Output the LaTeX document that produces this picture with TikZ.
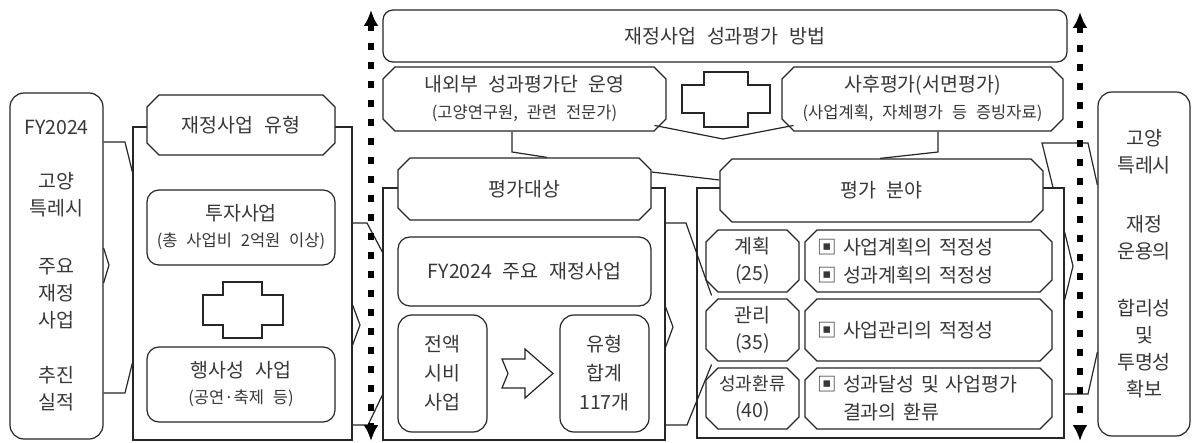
\documentclass[tikz,border=0pt]{standalone}
\usepackage{fontspec}
\setmainfont{Noto Sans CJK KR}[WordSpace=2.4]
\usetikzlibrary{shapes.misc,arrows.meta,calc}
\newcommand{\msz}{\fontsize{19.5}{27}\selectfont}
\newcommand{\ssz}{\fontsize{16.5}{27}\selectfont}
\begin{document}
\begin{tikzpicture}[x=1pt,y=-1pt,
  ln/.style={draw=black!85,line width=1.2pt},
  frm/.style={ln,rectangle,inner sep=0pt},
  rbox/.style={ln,fill=white,rectangle,rounded corners=#1,align=center,inner sep=0pt,text=black!78,font=\msz},
  rbox/.default=11pt,
  cbox/.style={ln,fill=white,chamfered rectangle,chamfered rectangle xsep=6pt,chamfered rectangle ysep=6pt,align=center,inner sep=0pt,text=black!78,font=\msz},
  rowbox/.style={cbox,align=left,text width=223pt,inner xsep=0pt,minimum width=247pt,font=\fontsize{19.5}{28}\selectfont},
  dotarr/.style={draw=black,line width=5.5pt,dash pattern=on 7pt off 12pt,{Latex[length=16pt,width=15pt]}-{Latex[length=16pt,width=15pt]}},
  sym/.style={ln,fill=white}
]
\useasboundingbox[fill=white] (0,0) rectangle (1193,443);

% group frames
\node[frm,minimum width=219pt,minimum height=313pt] (g1) at (242.5,283.5) {};
\node[frm,minimum width=282pt,minimum height=252pt] (g2) at (524,314) {};
\node[frm,minimum width=367pt,minimum height=250pt] (g3) at (880.5,313) {};

% side boxes
\node[rbox=14pt,minimum width=93pt,minimum height=346pt] (fy) at (56.5,266)
  {FY2024\\[27pt]고양\\특레시\\[31pt]주요\\재정\\사업\\[28pt]추진\\실적};
\node[rbox=14pt,minimum width=92pt,minimum height=344pt] (rb) at (1144,264)
  {고양\\특레시\\[32pt]재정\\운용의\\[30pt]합리성\\및\\투명성\\확보};

% connectors (braces)
\draw[ln] (fy.east |- 0,248) -- (109,265) -- (fy.east |- 0,283);
\draw[ln] (fy.east |- 0,142) -- (125,142) -- (g1.west |- 0,172);
\draw[ln] (fy.east |- 0,393) -- (125,393) -- (g1.west |- 0,363);

\draw[ln] (g1.east |- 0,305) -- (360,325) -- (g1.east |- 0,345);
\draw[ln] (g1.east |- 0,223) -- (367,223) -- (g2.west |- 0,252);
\draw[ln] (g1.east |- 0,425) -- (368,425) -- (g2.west |- 0,395);

\draw[ln] (g2.east |- 0,307) -- (673,327) -- (g2.east |- 0,347);

\draw[ln] (g3.east |- 0,232) -- (1073,266) -- (g3.east |- 0,300);
\draw[ln] (g3.north -| 1053,0) -- (1042,143) -- (1088,143) -- (rb.west |- 0,185);
\draw[ln] (g3.east |- 0,394) -- (1088,394) -- (rb.west |- 0,352);

% group 1
\node[cbox,minimum width=188pt,minimum height=60pt] (t1) at (241,125) {재정사업 유형};
\node[rbox=12pt,minimum width=188pt,minimum height=75pt] (b1) at (241,227.5) {투자사업\\[-1pt]{\ssz (총 사업비 2억원 이상)}};
\node[rbox=12pt,minimum width=188pt,minimum height=75pt] (b2) at (241,384.5) {행사성 사업\\[-1pt]{\ssz (공연·축제 등)}};
\draw[sym] (223,282) -- (262,282) -- (262,295) -- (283,295) -- (283,325) -- (262,325) -- (262,338) -- (223,338) -- (223,325) -- (203,325) -- (203,295) -- (223,295) -- cycle;

% top row
\node[rbox=10pt,minimum width=684pt,minimum height=52pt] (top) at (725,36) {재정사업 성과평가 방법};
\node[cbox,minimum width=283pt,minimum height=64pt] (nw) at (524.5,99) {내외부 성과평가단 운영\\{\ssz (고양연구원, 관련 전문가)}};
\node[cbox,minimum width=281pt,minimum height=64pt] (sh) at (922.5,99) {사후평가(서면평가)\\{\ssz (사업계획, 자체평가 등 증빙자료)}};
\draw[sym] (704,72) -- (748,72) -- (748,85) -- (770,85) -- (770,113) -- (748,113) -- (748,127) -- (704,127) -- (704,113) -- (682,113) -- (682,85) -- (704,85) -- cycle;

% group 2
\node[cbox,minimum width=253pt,minimum height=62pt] (t2) at (524.5,189) {평가대상};
\node[rbox=12pt,minimum width=253pt,minimum height=69pt] (f2) at (524.5,271.5) {FY2024 주요 재정사업};
\node[rbox=14pt,minimum width=89pt,minimum height=117pt,font=\fontsize{19.5}{29}\selectfont] (jb) at (442.5,373.5) {전액\\시비\\사업};
\node[rbox=14pt,minimum width=89pt,minimum height=117pt,font=\fontsize{19.5}{29}\selectfont] (yh) at (604.5,373.5) {유형\\합계\\117개};
\draw[sym] (502,359) -- (525,359) -- (525,349) -- (553,373.5) -- (525,398) -- (525,388) -- (502,388) -- (508,373.5) -- cycle;

% group 3
\node[cbox,minimum width=323pt,minimum height=63pt] (t3) at (881.5,190.5) {평가 분야};
\node[cbox,minimum width=93pt,minimum height=62pt] (k1) at (752.5,261) {계획\\(25)};
\node[cbox,minimum width=93pt,minimum height=62pt] (k2) at (752.5,330) {관리\\(35)};
\node[cbox,minimum width=93pt,minimum height=61pt] (k3) at (752.5,398.5) {{\fontsize{18}{27}\selectfont 성과환류}\\(40)};
\node[rowbox,minimum height=62pt] (r1) at (928.5,261) {▣ 사업계획의 적정성\\▣ 성과계획의 적정성};
\node[rowbox,minimum height=62pt] (r2) at (928.5,330) {▣ 사업관리의 적정성};
\node[rowbox,minimum height=61pt] (r3) at (928.5,398.5) {▣ 성과달성 및 사업평가\\\hphantom{▣ }결과의 환류};

% g2 -> g3 brace
\draw[ln] (g2.east |- 0,223) -- (686,223) -- ($(k1.south west)!0.5!(k2.north west)$);
\draw[ln] (g2.east |- 0,425) -- (687,425) -- ($(k2.south west)!0.5!(k3.north west)$);

% links between method boxes and groups
\draw[ln] ($(nw.south east)+(-6,0)$) -- (723,139) -- ($(sh.south west)+(6,0)$);
\draw[ln] (nw.south -| 512,0) -- (512,152) -- (t2.north -| 547,0);
\draw[ln] (sh.south -| 938,0) -- (938,152) -- (t3.north -| 880,0);
\draw[ln] (t2.east |- 0,172) -- (t3.west |- 0,180);

% dotted arrows
\coordinate (la) at (371,10);
\coordinate (lb) at (371,441);
\coordinate (ra) at (1080,12);
\coordinate (rz) at (1080,441);
\draw[dotarr] (la) -- (lb);
\draw[dotarr] (ra) -- (rz);
\end{tikzpicture}
\end{document}
